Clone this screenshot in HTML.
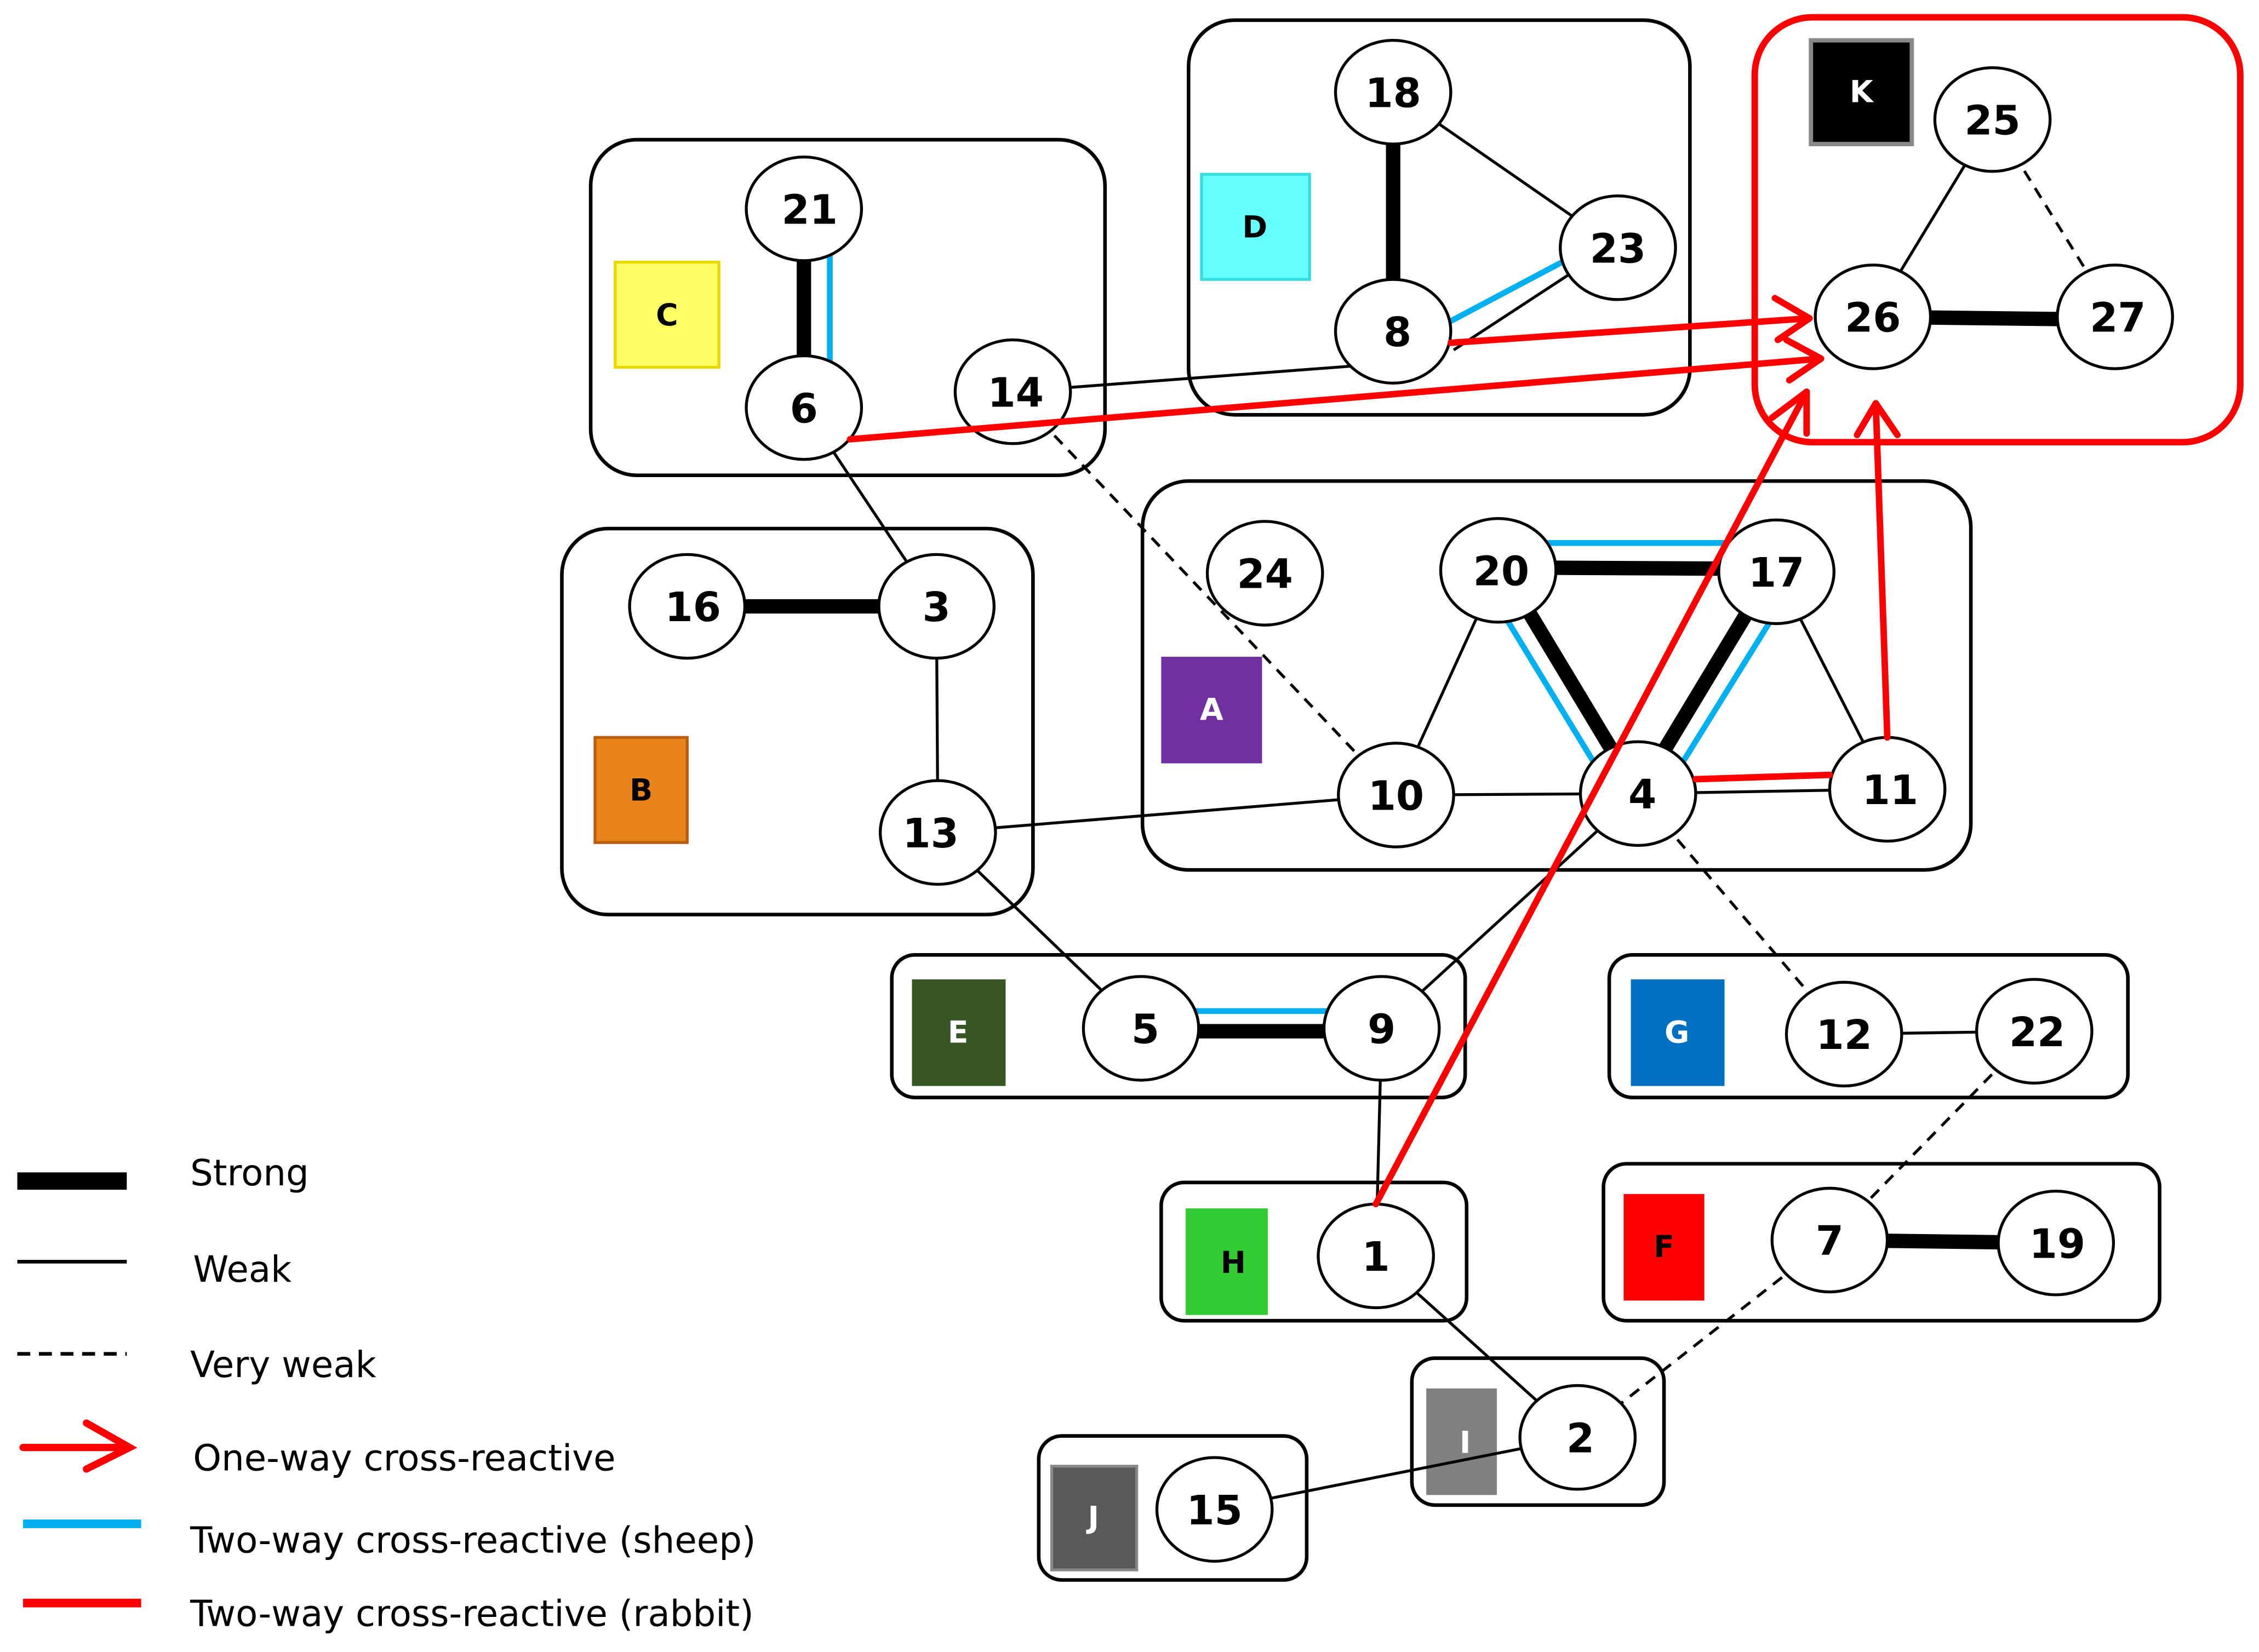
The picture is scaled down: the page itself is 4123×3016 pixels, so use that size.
<!DOCTYPE html>
<html><head><meta charset="utf-8"><style>
html,body{margin:0;padding:0;background:#fff}
svg{display:block}
text{font-family:"DejaVu Sans","Liberation Sans",sans-serif}
.n{font-weight:bold;font-size:28px;text-anchor:middle;dominant-baseline:central}
.g{font-weight:bold;font-size:21px;text-anchor:middle;dominant-baseline:central}
.l{font-size:25px}
</style></head><body>
<svg width="4123" height="3016" viewBox="0 0 1568 1147" xmlns="http://www.w3.org/2000/svg">
<g fill="none" stroke="#000" stroke-width="2.5">
<rect x="410" y="97" width="357" height="233" rx="32"/>
<rect x="825" y="14" width="348" height="274" rx="32"/>
<rect x="390" y="367" width="327" height="268" rx="32"/>
<rect x="793" y="334" width="575" height="270" rx="32"/>
<rect x="619" y="663" width="398" height="99" rx="16"/>
<rect x="1117" y="663" width="360" height="99" rx="16"/>
<rect x="806" y="821" width="212" height="96" rx="16"/>
<rect x="1113" y="808" width="386" height="109" rx="16"/>
<rect x="980" y="943" width="175" height="102" rx="16"/>
<rect x="721" y="997" width="186" height="100" rx="16"/>
<rect x="1218" y="12" width="337" height="295" rx="40" stroke="#f00" stroke-width="4.5"/>
</g>
<rect x="427" y="182" width="72" height="73" fill="#ffff66" stroke="#e8d800" stroke-width="2"/>
<rect x="834" y="121" width="75" height="73" fill="#66ffff" stroke="#33dddd" stroke-width="2"/>
<rect x="1257" y="28" width="70" height="72" fill="#000" stroke="#888" stroke-width="3"/>
<rect x="806" y="456" width="70" height="74" fill="#7030a0"/>
<rect x="413" y="512" width="64" height="73" fill="#e8841a" stroke="#b85c10" stroke-width="2"/>
<rect x="633" y="680" width="65" height="74" fill="#375623"/>
<rect x="1132" y="680" width="65" height="74" fill="#0070c0"/>
<rect x="823" y="839" width="57" height="74" fill="#33cc33"/>
<rect x="1127" y="829" width="56" height="74" fill="#ff0000"/>
<rect x="990" y="964" width="49" height="74" fill="#808080"/>
<rect x="730" y="1018" width="59" height="72" fill="#595959" stroke="#888" stroke-width="2"/>
<text class="g" x="463" y="219">C</text>
<text class="g" x="871" y="158">D</text>
<text class="g" x="1292" y="64" fill="#fff">K</text>
<text class="g" x="841" y="493" fill="#fff">A</text>
<text class="g" x="445" y="549">B</text>
<text class="g" x="665" y="717" fill="#fff">E</text>
<text class="g" x="1164" y="717" fill="#fff">G</text>
<text class="g" x="856" y="877">H</text>
<text class="g" x="1155" y="866">F</text>
<text class="g" x="1017" y="1002" fill="#fff">I</text>
<text class="g" x="759" y="1054" fill="#fff">J</text>

<g stroke="#000" stroke-width="2" fill="none">
<line x1="967" y1="64" x2="1123" y2="172"/>
<line x1="703" y1="272" x2="967" y2="252"/>
<line x1="1383" y1="83" x2="1300" y2="220"/>
<line x1="1383" y1="83" x2="1468" y2="220" stroke-dasharray="8,6"/>
<line x1="558" y1="283" x2="650" y2="421"/>
<line x1="703" y1="272" x2="969" y2="552" stroke-dasharray="8,6"/>
<line x1="650" y1="421" x2="651" y2="578"/>
<line x1="651" y1="578" x2="969" y2="552"/>
<line x1="651" y1="578" x2="792" y2="714"/>
<line x1="1040" y1="396" x2="969" y2="552"/>
<line x1="1233" y1="397" x2="1310" y2="548"/>
<line x1="969" y1="552" x2="1137" y2="551"/>
<line x1="1137" y1="551" x2="1310" y2="548"/>
<line x1="1137" y1="551" x2="959" y2="714"/>
<line x1="1137" y1="551" x2="1280" y2="718" stroke-dasharray="8,6"/>
<line x1="959" y1="714" x2="955" y2="872"/>
<line x1="1280" y1="718" x2="1412" y2="716"/>
<line x1="1412" y1="716" x2="1270" y2="861" stroke-dasharray="8,6"/>
<line x1="1270" y1="861" x2="1095" y2="998" stroke-dasharray="8,6"/>
<line x1="955" y1="872" x2="1095" y2="998"/>
<line x1="1095" y1="998" x2="843" y2="1048"/>
<line x1="1009" y1="243" x2="1090" y2="190"/>
</g>
<g stroke="#00b0f0" stroke-width="4" fill="none">
<line x1="576" y1="145" x2="576" y2="283"/>
<line x1="1005" y1="224" x2="1088" y2="180"/>
<line x1="1040" y1="377" x2="1233" y2="377"/>
<line x1="1030" y1="404" x2="1125" y2="560"/>
<line x1="1242" y1="410" x2="1152" y2="555"/>
<line x1="792" y1="702" x2="959" y2="702"/>
</g>
<g stroke="#000" stroke-width="10" fill="none">
<line x1="558" y1="145" x2="558" y2="283"/>
<line x1="967" y1="64" x2="967" y2="230"/>
<line x1="1300" y1="220" x2="1468" y2="222"/>
<line x1="477" y1="421" x2="650" y2="421"/>
<line x1="1040" y1="394" x2="1233" y2="395"/>
<line x1="1045" y1="398" x2="1137" y2="551"/>
<line x1="1228" y1="400" x2="1137" y2="551"/>
<line x1="792" y1="716" x2="959" y2="716"/>
<line x1="1270" y1="861" x2="1427" y2="863"/>
</g>
<g fill="#fff" stroke="#000" stroke-width="2">
<ellipse cx="558" cy="145" rx="40" ry="36"/>
<ellipse cx="558" cy="283" rx="40" ry="36"/>
<ellipse cx="703" cy="272" rx="40" ry="36"/>
<ellipse cx="967" cy="64" rx="40" ry="36"/>
<ellipse cx="1123" cy="172" rx="40" ry="36"/>
<ellipse cx="967" cy="230" rx="40" ry="36"/>
<ellipse cx="1383" cy="83" rx="40" ry="36"/>
<ellipse cx="1300" cy="220" rx="40" ry="36"/>
<ellipse cx="1468" cy="220" rx="40" ry="36"/>
<ellipse cx="477" cy="421" rx="40" ry="36"/>
<ellipse cx="650" cy="421" rx="40" ry="36"/>
<ellipse cx="651" cy="578" rx="40" ry="36"/>
<ellipse cx="878" cy="398" rx="40" ry="36"/>
<ellipse cx="1040" cy="396" rx="40" ry="36"/>
<ellipse cx="1233" cy="397" rx="40" ry="36"/>
<ellipse cx="969" cy="552" rx="40" ry="36"/>
<ellipse cx="1137" cy="551" rx="40" ry="36"/>
<ellipse cx="1310" cy="548" rx="40" ry="36"/>
<ellipse cx="792" cy="714" rx="40" ry="36"/>
<ellipse cx="959" cy="714" rx="40" ry="36"/>
<ellipse cx="1280" cy="718" rx="40" ry="36"/>
<ellipse cx="1412" cy="716" rx="40" ry="36"/>
<ellipse cx="955" cy="872" rx="40" ry="36"/>
<ellipse cx="1270" cy="861" rx="40" ry="36"/>
<ellipse cx="1427" cy="863" rx="40" ry="36"/>
<ellipse cx="1095" cy="998" rx="40" ry="36"/>
<ellipse cx="843" cy="1048" rx="40" ry="36"/>
</g>
<g stroke="#f00" stroke-width="4.5" fill="none" stroke-linecap="round" stroke-linejoin="round">
<line x1="1007" y1="238" x2="1256" y2="221"/>
<polyline points="1232,207 1256,221 1234,236"/>
<line x1="590" y1="305" x2="1264" y2="249"/>
<polyline points="1240,236 1264,249 1242,264"/>
<line x1="955" y1="836" x2="1254" y2="272"/>
<polyline points="1230,290 1254,272 1254,301"/>
<line x1="1310" y1="512" x2="1302" y2="280"/>
<polyline points="1289,302 1302,280 1317,302"/>
<line x1="1177" y1="541" x2="1270" y2="538"/>
</g>
<g>
<text class="n" x="562" y="146">21</text>
<text class="n" x="558" y="284">6</text>
<text class="n" x="705" y="273">14</text>
<text class="n" x="967" y="65">18</text>
<text class="n" x="1123" y="173">23</text>
<text class="n" x="970" y="231">8</text>
<text class="n" x="1383" y="84">25</text>
<text class="n" x="1300" y="221">26</text>
<text class="n" x="1470" y="221">27</text>
<text class="n" x="481" y="422">16</text>
<text class="n" x="650" y="422">3</text>
<text class="n" x="646" y="579">13</text>
<text class="n" x="878" y="399">24</text>
<text class="n" x="1042" y="397">20</text>
<text class="n" x="1233" y="398">17</text>
<text class="n" x="969" y="553">10</text>
<text class="n" x="1140" y="552">4</text>
<text class="n" x="1312" y="549">11</text>
<text class="n" x="795" y="715">5</text>
<text class="n" x="959" y="715">9</text>
<text class="n" x="1280" y="719">12</text>
<text class="n" x="1414" y="717">22</text>
<text class="n" x="955" y="873">1</text>
<text class="n" x="1270" y="862">7</text>
<text class="n" x="1428" y="864">19</text>
<text class="n" x="1097" y="999">2</text>
<text class="n" x="843" y="1049">15</text>
</g>
<line x1="12" y1="820" x2="88" y2="820" stroke="#000" stroke-width="12"/>
<line x1="12" y1="876" x2="88" y2="876" stroke="#000" stroke-width="2.5"/>
<line x1="12" y1="940" x2="88" y2="940" stroke="#000" stroke-width="2.5" stroke-dasharray="9,6"/>
<g stroke="#f00" stroke-width="5" fill="none" stroke-linecap="round">
<line x1="16" y1="1005" x2="88" y2="1005"/>
<polyline points="60,988 90,1005 60,1020"/>
</g>
<line x1="16" y1="1058" x2="98" y2="1058" stroke="#00b0f0" stroke-width="6"/>
<line x1="16" y1="1113" x2="98" y2="1113" stroke="#f00" stroke-width="6"/>
<text class="l" x="132" y="823">Strong</text>
<text class="l" x="134" y="890">Weak</text>
<text class="l" x="132" y="956">Very weak</text>
<text class="l" x="134" y="1021">One-way cross-reactive</text>
<text class="l" x="132" y="1078">Two-way cross-reactive (sheep)</text>
<text class="l" x="132" y="1129">Two-way cross-reactive (rabbit)</text>
</svg>
</body></html>
